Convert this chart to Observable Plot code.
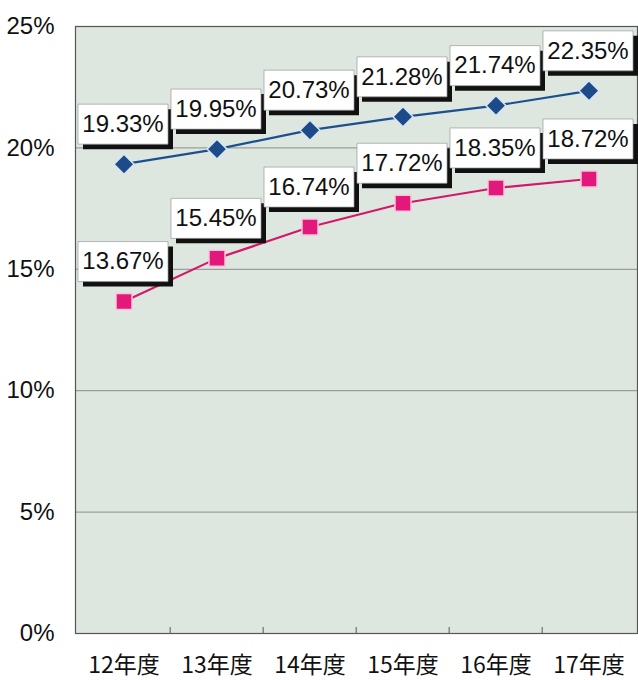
<!DOCTYPE html>
<html><head><meta charset="utf-8">
<script src="https://cdn.jsdelivr.net/npm/d3@7"></script>
<script src="https://cdn.jsdelivr.net/npm/@observablehq/plot@0.6"></script>
<style>body{margin:0;background:#fff}</style>
</head><body><div id="chart"></div>
<script>
const years = ["12年度","13年度","14年度","15年度","16年度","17年度"];
const seriesA = [19.33,19.95,20.73,21.28,21.74,22.35];
const seriesB = [13.67,15.45,16.74,17.72,18.35,18.72];
const yTicks = [0,5,10,15,20,25];
const gridTicks = [5,10,15,20];

const rowsA = years.map((y,i)=>({year:y, value:seriesA[i]}));
const rowsB = years.map((y,i)=>({year:y, value:seriesB[i]}));

const diamond = {draw(ctx){const s=10;ctx.moveTo(0,-s);ctx.lineTo(s,0);ctx.lineTo(0,s);ctx.lineTo(-s,0);ctx.closePath();}};
const square = {draw(ctx){ctx.rect(-8,-8,16,16);}};
const box = {draw(ctx){ctx.rect(-45,-20,90,40);}};

const W = 638, ML = 75, MR = 1;
const halfBand = (W - ML - MR) / years.length / 2;

const labelMarks = rows => [
  Plot.dot(rows, {x:"year", y:"value", symbol: box, fill:"#111", stroke:"none", dx:4, dy:-35}),
  Plot.dot(rows, {x:"year", y:"value", symbol: box, fill:"#fff", stroke:"#9a9a9a", strokeWidth:0.7, dx:-1, dy:-40}),
  Plot.text(rows, {x:"year", y:"value", text: d=>d.value.toFixed(2)+"%", dx:-1, dy:-40, fontSize:24, fontFamily:"Liberation Sans, Arial, sans-serif", fill:"#111"})
];

const chart = Plot.plot({
  width: W, height: 680,
  marginLeft: ML, marginRight: MR, marginTop: 26, marginBottom: 47,
  style: {background:"#fff", fontFamily:"Liberation Sans, Arial, sans-serif", color:"#111"},
  x: {type:"band", domain: years, padding:0},
  y: {domain:[0,25]},
  marks: [
    Plot.frame({fill:"#dde7e0", stroke:"none"}),
    Plot.ruleY(gridTicks, {stroke:"#8c8c8c", strokeWidth:1}),
    Plot.frame({stroke:"#555", strokeWidth:1.2}),
    Plot.axisY({ticks:yTicks, tickSize:0, tickPadding:21, tickFormat:d=>d+"%", fontSize:24, label:null}),
    Plot.axisX({tickSize:0, tickPadding:23, fontSize:23, fontFamily:"Noto Sans CJK JP, sans-serif", label:null}),
    Plot.axisX({ticks: years.slice(1), text:null, tickSize:-6, dx:-halfBand, stroke:"#555", label:null}),
    Plot.line(rowsA, {x:"year", y:"value", stroke:"#1d4f8e", strokeWidth:2.2}),
    Plot.line(rowsB, {x:"year", y:"value", stroke:"#d3186a", strokeWidth:2.2}),
    Plot.dot(rowsA, {x:"year", y:"value", symbol: diamond, fill:"#1d4a88", stroke:"#d6e6f2", strokeWidth:1.5}),
    Plot.dot(rowsB, {x:"year", y:"value", symbol: square, fill:"#e2197a", stroke:"#f6c6dc", strokeWidth:1.5}),
    ...labelMarks(rowsA),
    ...labelMarks(rowsB)
  ]
});
document.getElementById("chart").append(chart);
</script></body></html>
